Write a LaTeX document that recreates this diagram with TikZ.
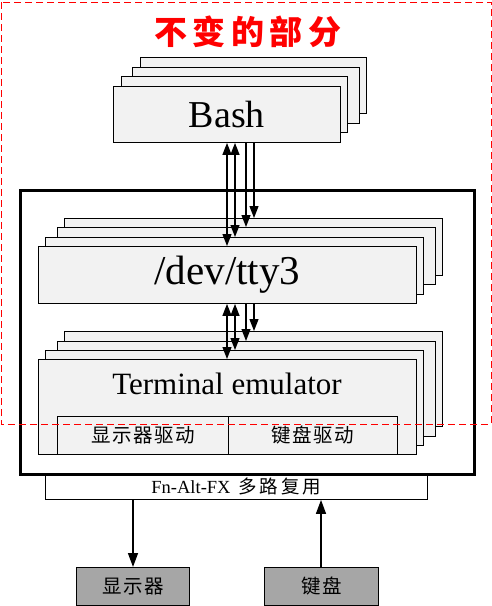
\documentclass[tikz,border=0pt]{standalone}
\usepackage{fontspec}
\setmainfont{Liberation Serif}
\newfontfamily\cjk{Noto Sans CJK SC}
\usetikzlibrary{arrows.meta}
\definecolor{boxfill}{HTML}{F2F2F2}
\definecolor{devfill}{HTML}{A6A6A6}
\newcommand{\gp}{\hspace{1.5pt}}
\tikzset{
  layer/.style={draw=black, line width=0.9pt, fill=boxfill, anchor=north west, inner sep=0pt},
  sub/.style={draw=black, line width=0.9pt, fill=boxfill, anchor=north west, inner sep=0pt,
    minimum width=171pt, minimum height=38pt, font=\cjk\fontsize{19.5}{19.5}\selectfont},
  dev/.style={draw=black, line width=0.9pt, fill=devfill, anchor=north west, inner sep=0pt,
    minimum height=38pt, font=\cjk\fontsize{19.5}{19.5}\selectfont},
  link/.style={line width=1.3pt, -{Triangle[length=12pt,width=9pt]}},
  dlink/.style={line width=1.3pt, {Triangle[length=12pt,width=9pt]}-{Triangle[length=12pt,width=9pt]}},
  io/.style={line width=1.5pt, -{Triangle[length=14pt,width=10pt]}},
}
\begin{document}
\begin{tikzpicture}[x=1pt,y=-1pt]
\useasboundingbox (0,0) rectangle (492,606);
% title
\node[text=red, font=\cjk\bfseries\fontsize{33}{33}\selectfont] (title) at (248,32) {不\,变\,的\,部\,分};
% Bash stack
\foreach \n/\x/\y/\w in {4/140/57/226, 3/132/67/227, 2/121/76/226, 1/113/86/227}
  \node[layer, minimum width=\w pt, minimum height=56pt] (bash\n) at (\x,\y) {};
\node[font=\fontsize{38}{38}\selectfont] (bashlabel) at (bash1.center) {Bash};
% outer thick box and multiplexer
\node[draw=black, line width=0.9pt, fill=white, anchor=north west, inner sep=0pt,
  minimum width=382pt, minimum height=26pt,
  font=\fontsize{18.5}{18.5}\selectfont] (mux) at (45,473) {Fn-Alt-FX\hspace{3pt} {\cjk 多\,路\,复\,用}};
\node[draw=black, line width=3pt, anchor=north west, inner sep=0pt,
  minimum width=454pt, minimum height=284pt] (kernel) at (19,189) {};
% tty stack
\foreach \n/\x/\y in {4/64/218, 3/57/227, 2/45/237, 1/38/246}
  \node[layer, minimum width=378pt, minimum height=57pt] (tty\n) at (\x,\y) {};
\node[font=\fontsize{41}{41}\selectfont] (ttylabel) at (tty1.center) {/dev/tty3};
% terminal stack
\foreach \n/\x/\y in {4/64/331, 3/57/341, 2/45/350, 1/38/359}
  \node[layer, minimum width=378pt, minimum height=95pt] (term\n) at (\x,\y) {};
\node[font=\fontsize{31}{31}\selectfont] (termlabel) at (227,384) {Terminal emulator};
\node[sub] (vdrv) at (57,416) {显\gp 示\gp 器\gp 驱\gp 动};
\node[sub, minimum width=169pt] (kdrv) at (228,416) {键\gp 盘\gp 驱\gp 动};
% devices
\node[dev, minimum width=113pt] (screen) at (76,567) {显\gp 示\gp 器};
\node[dev, minimum width=114pt] (kbd) at (264,567) {键\gp 盘};
% arrow columns
\coordinate (ca) at (227,0);
\coordinate (cb) at (235,0);
\coordinate (cc) at (246,0);
\coordinate (cd) at (254,0);
\draw[dlink] (bash1.south -| ca) -- (tty1.north -| ca);
\draw[dlink] (bash1.south -| cb) -- (tty2.north -| cb);
\draw[link] (bash1.south -| cc) -- (tty3.north -| cc);
\draw[link] (bash1.south -| cd) -- (tty4.north -| cd);
\draw[dlink] (tty1.south -| ca) -- (term1.north -| ca);
\draw[dlink] (tty1.south -| cb) -- (term2.north -| cb);
\draw[link] (tty1.south -| cc) -- (term3.north -| cc);
\draw[link] (tty1.south -| cd) -- (term4.north -| cd);
% io arrows
\coordinate (ce) at (133,0);
\coordinate (cf) at (321,0);
\draw[io] (mux.south -| ce) -- (screen.north -| ce);
\draw[io] (kbd.north -| cf) -- (mux.south -| cf);
% red dashed region
\draw[red, line width=0.9pt, dash pattern=on 7pt off 4pt] (1,2) rectangle (491,424);
\end{tikzpicture}
\end{document}
